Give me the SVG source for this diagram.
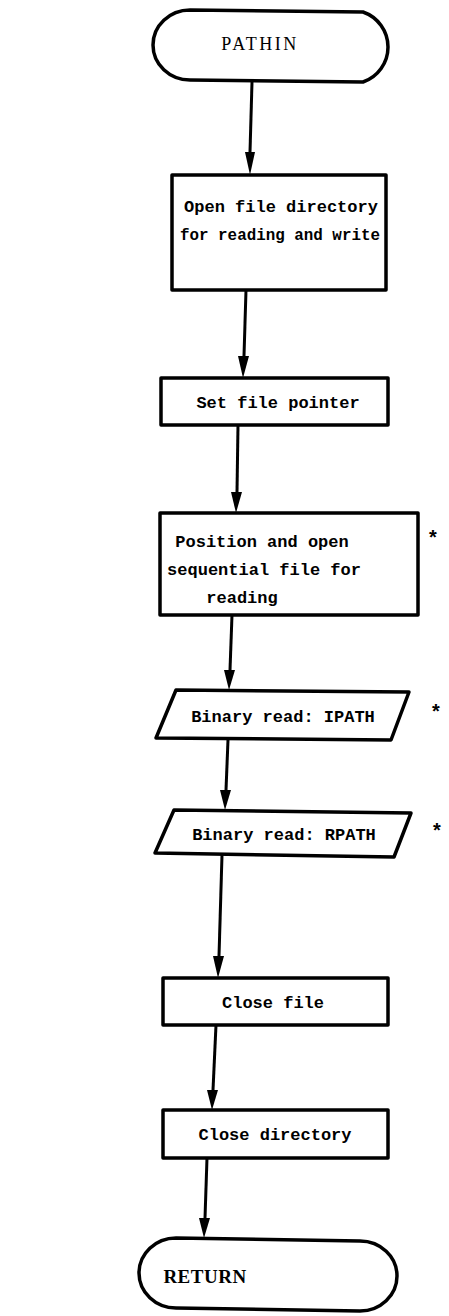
<svg xmlns="http://www.w3.org/2000/svg" width="449" height="1316" viewBox="0 0 449 1316">
<style>
  .shape { fill: #ffffff; stroke: #000000; stroke-width: 3.5; stroke-linejoin: round; }
  .edge { fill: none; stroke: #000000; stroke-width: 3; }
  .head { fill: #000000; }
  .t { font-family: "Liberation Mono", "DejaVu Sans Mono", monospace; font-size: 17px; font-weight: bold; fill: #000; text-anchor: middle; }
  .term { font-family: "Liberation Serif", "DejaVu Serif", serif; fill: #000; text-anchor: middle; }
  .star { font-family: "Liberation Sans", sans-serif; font-size: 20px; font-weight: bold; fill: #000; text-anchor: middle; }
</style>
<rect width="449" height="1316" fill="#ffffff"/>

<g id="connectors">
  <line class="edge" x1="252" y1="82" x2="250" y2="152"/>
  <path class="head" d="M245,152 L255,152 L250,175 Z"/>
  <line class="edge" x1="246" y1="290" x2="244" y2="356"/>
  <path class="head" d="M238,356 L249,356 L243,378 Z"/>
  <line class="edge" x1="238" y1="425" x2="237" y2="492"/>
  <path class="head" d="M231,492 L242,492 L236,513 Z"/>
  <line class="edge" x1="232" y1="615" x2="230" y2="670"/>
  <path class="head" d="M224,670 L235,670 L229,690 Z"/>
  <line class="edge" x1="228" y1="740" x2="226" y2="790"/>
  <path class="head" d="M220,790 L231,790 L225,810 Z"/>
  <line class="edge" x1="222" y1="855" x2="219" y2="956"/>
  <path class="head" d="M213,956 L224,956 L218,978 Z"/>
  <line class="edge" x1="216" y1="1025" x2="213" y2="1090"/>
  <path class="head" d="M207,1090 L218,1090 L212,1110 Z"/>
  <line class="edge" x1="207" y1="1158" x2="205" y2="1218"/>
  <path class="head" d="M199,1218 L210,1218 L204,1238 Z"/>
</g>

<g id="start">
  <path class="shape" d="M190,10 L363,12 A37,37 0 0 1 363,82 L190,80 A37,35 0 0 1 190,10 Z"/>
  <text class="term" x="260" y="50" font-size="18" letter-spacing="2.5">PATHIN</text>
</g>

<g id="open-directory">
  <rect class="shape" x="172" y="175" width="214" height="115"/>
  <text class="t" x="281" y="212">Open file directory</text>
  <text class="t" x="280" y="240" textLength="200" lengthAdjust="spacingAndGlyphs">for reading and write</text>
</g>

<g id="set-pointer">
  <rect class="shape" x="161" y="378" width="227" height="47"/>
  <text class="t" x="278" y="408">Set file pointer</text>
</g>

<g id="position-open">
  <rect class="shape" x="160" y="513" width="258" height="102"/>
  <text class="t" x="262" y="547">Position and open</text>
  <text class="t" x="264" y="575">sequential file for</text>
  <text class="t" x="242" y="603">reading</text>
  <text class="star" x="433" y="544">*</text>
</g>

<g id="read-ipath">
  <path class="shape" d="M176,690 L409,692 L391,740 L156,738 Z"/>
  <text class="t" x="283" y="722">Binary read: IPATH</text>
  <text class="star" x="436" y="718">*</text>
</g>

<g id="read-rpath">
  <path class="shape" d="M174,810 L411,813 L394,857 L155,853 Z"/>
  <text class="t" x="284" y="840">Binary read: RPATH</text>
  <text class="star" x="437" y="837">*</text>
</g>

<g id="close-file">
  <rect class="shape" x="163" y="978" width="225" height="47"/>
  <text class="t" x="273" y="1008">Close file</text>
</g>

<g id="close-directory">
  <rect class="shape" x="163" y="1110" width="225" height="48"/>
  <text class="t" x="275" y="1140">Close directory</text>
</g>

<g id="return">
  <path class="shape" d="M176,1238 L360,1241 A37,35 0 0 1 360,1311 L176,1308 A37,35 0 0 1 176,1238 Z"/>
  <text class="term" x="205" y="1283" font-size="19" font-weight="bold" letter-spacing="0.5">RETURN</text>
</g>
</svg>
